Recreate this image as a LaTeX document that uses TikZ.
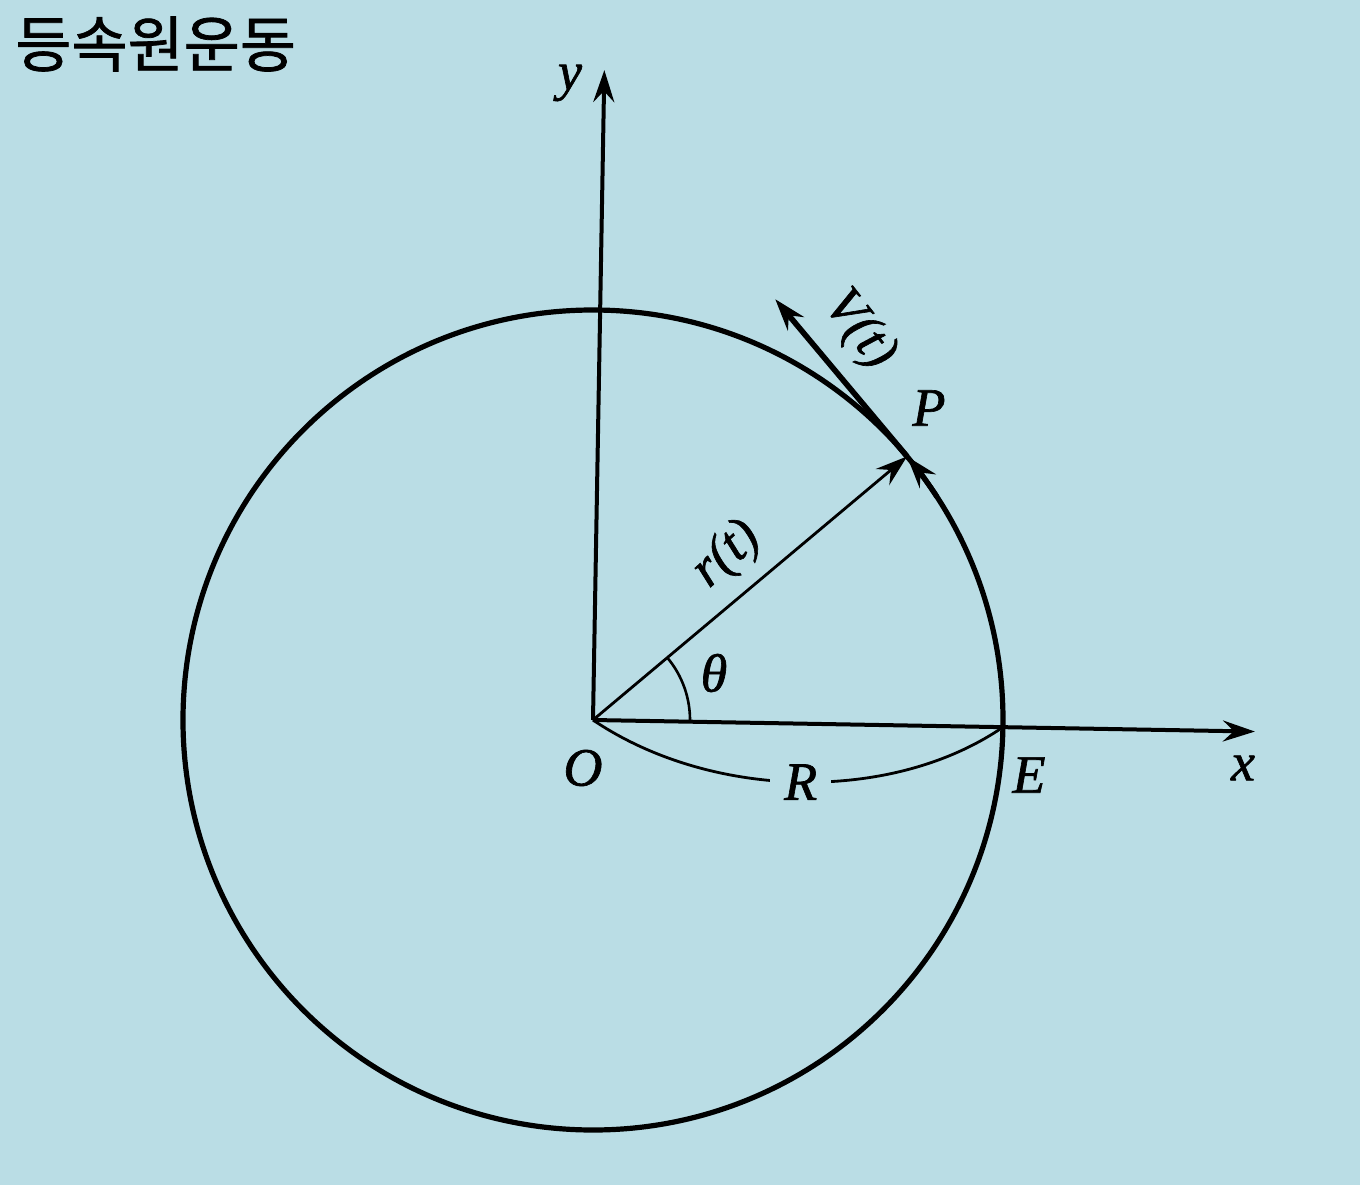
\documentclass[tikz,border=0pt]{standalone}
\usepackage{fontspec}
\setmainfont{Liberation Serif}
\newfontfamily\labfont{Liberation Serif}[ItalicFeatures={FakeBold=1.2}]
\newfontfamily\krfont{Noto Sans CJK KR}[FakeBold=1.2]
\usetikzlibrary{arrows.meta}
\definecolor{bgblue}{RGB}{186,221,229}
\begin{document}
\begin{tikzpicture}[x=0.5pt,y=0.5pt,
  tip/.style={-{Stealth[length=16pt,width=10.5pt,inset=5.5pt]}},
  lbl/.style={font=\labfont\fontsize{27}{30}\selectfont\itshape, inner sep=0pt}]
\fill[bgblue] (-593,720) rectangle (767,-465);
\useasboundingbox (-593,720) rectangle (767,-465);
\node[anchor=west, font=\krfont\fontsize{30.5}{36}\selectfont, inner sep=0pt] (title) at (-578,676) {등속원운동};
\begin{scope}[rotate=-1]
\coordinate (O) at (0,0);
\coordinate (X) at (662,0);
\coordinate (Y) at (0,650);
\coordinate (E) at (410,0);
\coordinate (P) at (41:410);
\coordinate (V) at (174.9,423.9);
\coordinate (A) at (34:410);
\coordinate (T) at (97,0);
\draw[line width=2.6pt] (O) circle [radius=410];
\draw[line width=2pt, tip] (O) -- (X);
\draw[line width=2pt, tip] (O) -- (Y);
\draw[line width=1.4pt, tip] (O) -- (P);
\draw[line width=2.8pt, tip] (P) -- (V);
\draw[line width=2.6pt, tip] (A) arc[start angle=34, end angle=41, radius=410];
\draw[line width=1.3pt] (T) arc[start angle=0, end angle=41, radius=97];
\draw[line width=1.4pt] (O) .. controls (120,-78) and (300,-78) .. node[fill=bgblue, lbl, inner xsep=7pt, inner ysep=3pt] (Rl) {R} (E);
\end{scope}
\node[lbl] (ly) at (-23,637) {y};
\node[lbl] (lx) at (650,-48) {x};
\node[lbl] (lO) at (-10,-48) {O};
\node[lbl] (lE) at (436,-55) {E};
\node[lbl] (lP) at (336,312) {P};
\node[lbl] (lth) at (121,47) {θ};
\node[lbl, rotate=42] (lr) at (134,165) {r(t)};
\node[lbl, rotate=-52] (lV) at (266,390) {V(t)};
\end{tikzpicture}
\end{document}
